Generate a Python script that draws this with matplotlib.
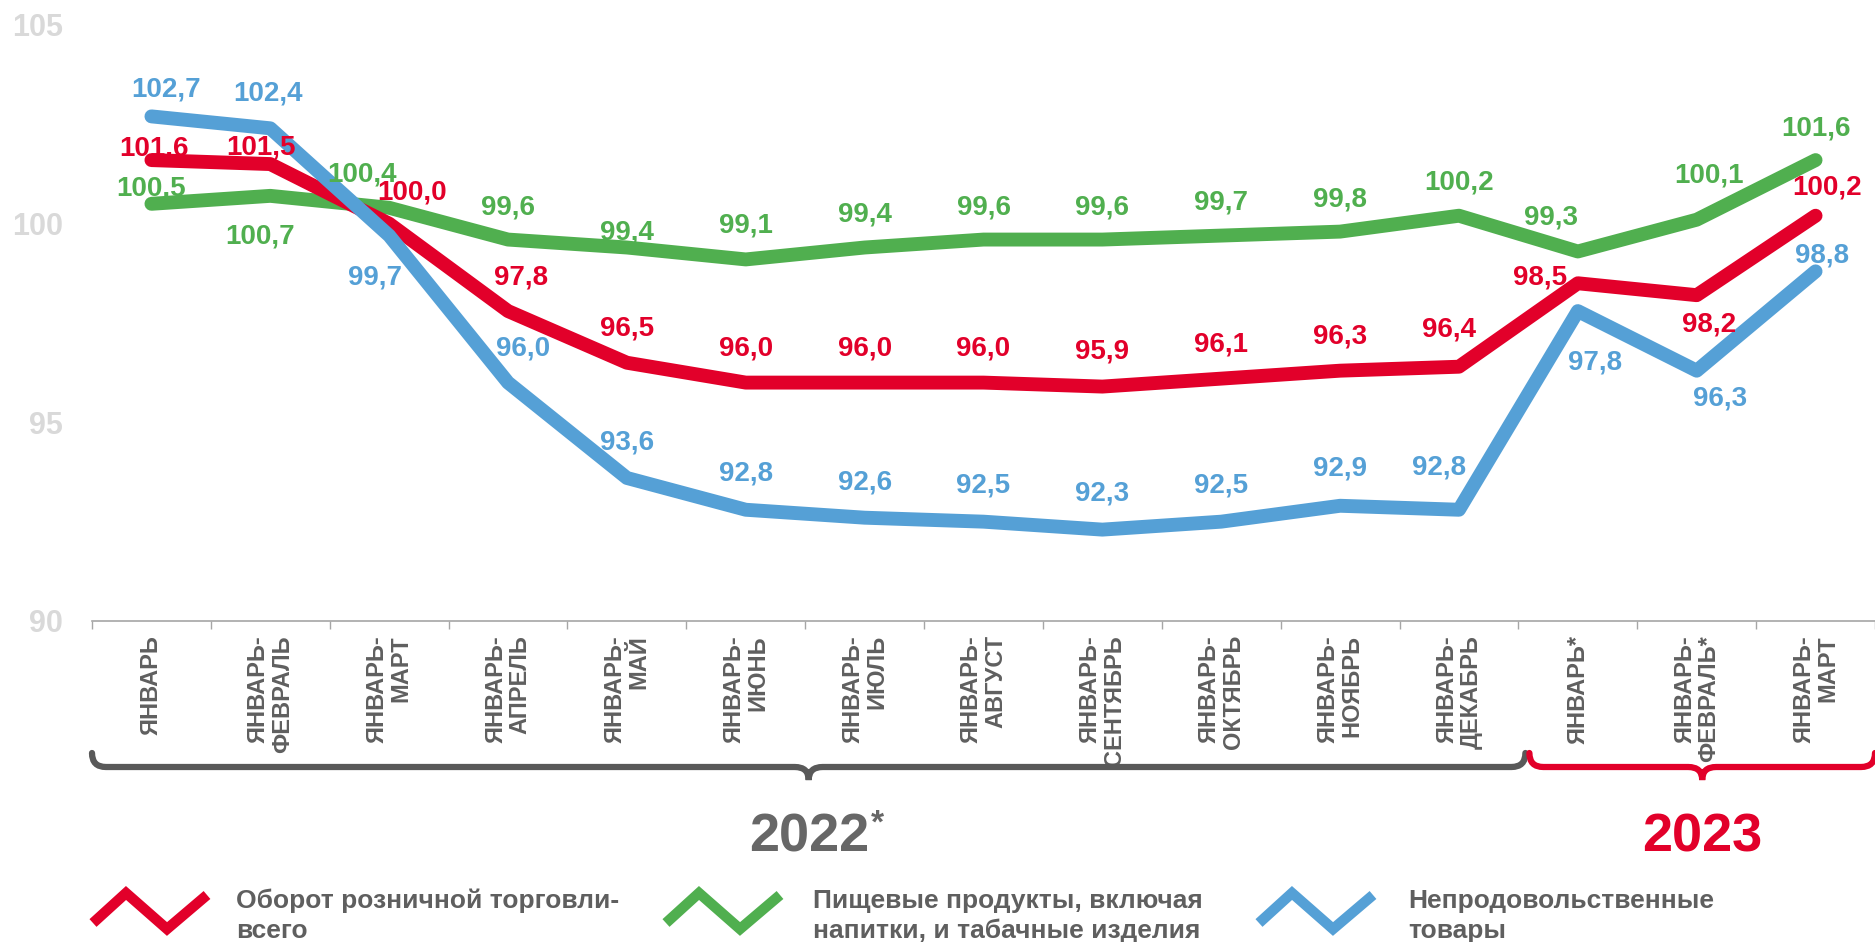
import matplotlib
matplotlib.use('Agg')
import matplotlib.pyplot as plt
from matplotlib.path import Path
from matplotlib.patches import PathPatch
from matplotlib.lines import Line2D
import numpy as np

plt.rcParams['font.family'] = ['Liberation Sans', 'DejaVu Sans']
plt.rcParams['font.weight'] = 'bold'

# ---------------- data ----------------
categories = ['ЯНВАРЬ', 'ЯНВАРЬ-\nФЕВРАЛЬ', 'ЯНВАРЬ-\nМАРТ', 'ЯНВАРЬ-\nАПРЕЛЬ',
              'ЯНВАРЬ-\nМАЙ', 'ЯНВАРЬ-\nИЮНЬ', 'ЯНВАРЬ-\nИЮЛЬ', 'ЯНВАРЬ-\nАВГУСТ',
              'ЯНВАРЬ-\nСЕНТЯБРЬ', 'ЯНВАРЬ-\nОКТЯБРЬ', 'ЯНВАРЬ-\nНОЯБРЬ',
              'ЯНВАРЬ-\nДЕКАБРЬ', 'ЯНВАРЬ*', 'ЯНВАРЬ-\nФЕВРАЛЬ*', 'ЯНВАРЬ-\nМАРТ']
retail_total = [101.6, 101.5, 100.0, 97.8, 96.5, 96.0, 96.0, 96.0, 95.9, 96.1, 96.3, 96.4, 98.5, 98.2, 100.2]
food = [100.5, 100.7, 100.4, 99.6, 99.4, 99.1, 99.4, 99.6, 99.6, 99.7, 99.8, 100.2, 99.3, 100.1, 101.6]
nonfood = [102.7, 102.4, 99.7, 96.0, 93.6, 92.8, 92.6, 92.5, 92.3, 92.5, 92.9, 92.8, 97.8, 96.3, 98.8]
series_names = ['Оборот розничной торговли-\nвсего',
                'Пищевые продукты, включая\nнапитки, и табачные изделия',
                'Непродовольственные\nтовары']
year_2022 = '2022'
year_2023 = '2023'
y_ticks = [90, 95, 100, 105]

# ---------------- style ----------------
RED = '#E2002A'
GREEN = '#50AF4F'
BLUE = '#55A0D6'
GRAY = '#5F5F5F'
YEAR_GRAY = '#676767'

# label offsets in pixels (dx right, dy down from point to label centre)
off_red = [(3, -15), (-9, -20), (23, -34), (13, -37), (0, -37), (0, -37), (0, -37), (0, -37),
           (0, -38), (0, -37), (0, -37), (-10, -40), (-38, -9), (12, 26), (11, -31)]
off_green = [(0, -18), (-10, 38), (-27, -36), (0, -35), (0, -18), (0, -37), (0, -36), (0, -35),
             (0, -35), (0, -36), (0, -35), (0, -36), (-27, -37), (12, -47), (0, -35)]
off_blue = [(15, -30), (-2, -38), (-14, 39), (15, -37), (0, -38), (0, -39), (0, -38), (0, -39),
            (0, -39), (0, -39), (0, -40), (-20, -45), (17, 48), (23, 25), (6, -19)]

W, H = 1875, 942
fig = plt.figure(figsize=(W / 100, H / 100), dpi=100)
fig.patch.set_facecolor('white')

ax_left, ax_bottom_px, ax_top_px = 92, 621, 25
cat_w = 119.4
ax = fig.add_axes([ax_left / W, (H - ax_bottom_px) / H, 1 - ax_left / W,
                   (ax_bottom_px - ax_top_px) / H])
ax.set_xlim(-0.5, -0.5 + (W - ax_left) / cat_w)
ax.set_ylim(90, 105)
ax.set_facecolor('none')

for s in ['top', 'right', 'left']:
    ax.spines[s].set_visible(False)
ax.spines['bottom'].set_color('#A6A6A6')
ax.spines['bottom'].set_linewidth(1.2)

x = np.arange(len(categories))
ax.set_xticks(x)
ax.set_xticklabels(categories, rotation=90, fontsize=17, color=GRAY, fontweight='bold')
for lbl in ax.get_xticklabels():
    lbl.set_multialignment('right')
    lbl.set_linespacing(1.05)
ax.set_xticks(np.arange(-0.5, len(categories), 1.0), minor=True)
ax.tick_params(axis='x', which='major', length=0, pad=10)
ax.tick_params(axis='x', which='minor', length=5.5, width=1.0, color='#A6A6A6', direction='out')

ax.set_yticks(y_ticks)
ax.set_yticklabels([str(t) for t in y_ticks], fontsize=22, color='#D9D9D9', fontweight='bold')
ax.tick_params(axis='y', length=0, pad=21)

series = [(food, GREEN, off_green, 3), (retail_total, RED, off_red, 4), (nonfood, BLUE, off_blue, 5)]
for vals, col, offs, z in series:
    ax.plot(x, vals, color=col, lw=10, solid_capstyle='round', solid_joinstyle='round',
            zorder=z, clip_on=False)
    for i, v in enumerate(vals):
        dx, dy = offs[i]
        ax.annotate(f'{v:.1f}'.replace('.', ','), (x[i], v), xytext=(dx, -(dy + 10)),
                    textcoords='offset pixels', ha='center', va='baseline', fontsize=20,
                    color=col, fontweight='bold', zorder=7, annotation_clip=False)

# ---------------- braces ----------------
def px(xd):
    return ax.transData.transform((xd, 100))[0]

def brace(xl, xr, col):
    yl, yt, ytip, r = 767, 753, 780, 14
    xm = (xl + xr) / 2
    pts = [(xl, yt), (xl, yl), (xl + r, yl), (xm - r, yl), (xm, yl), (xm, ytip),
           (xm, yl), (xm + r, yl), (xr - r, yl), (xr, yl), (xr, yt)]
    codes = [Path.MOVETO, Path.CURVE3, Path.CURVE3, Path.LINETO, Path.CURVE3, Path.CURVE3,
             Path.CURVE3, Path.CURVE3, Path.LINETO, Path.CURVE3, Path.CURVE3]
    pts = [(a / W, (H - b) / H) for a, b in pts]
    fig.add_artist(PathPatch(Path(pts, codes), fill=False, edgecolor=col, lw=4.5,
                             transform=fig.transFigure, capstyle='round'))
    return xm

split = px(11.5)
m22 = brace(px(-0.5), split + 7, '#595959')
m23 = brace(split + 11, px(14.5), RED)

base_y = (H - 851) / H
fig.text(m22 / W, base_y, year_2022, fontsize=39, color=YEAR_GRAY, ha='center',
         va='baseline', fontweight='bold')
fig.text((m22 + 62) / W, (H - 833) / H, '*', fontsize=24, color=YEAR_GRAY, ha='left',
         va='baseline', fontweight='bold')
fig.text(m23 / W, base_y, year_2023, fontsize=39, color=RED, ha='center',
         va='baseline', fontweight='bold')

# ---------------- legend ----------------
icon_shape = [(0, 923), (33, 893), (74, 929), (114, 895)]
legend_items = [(RED, 93, 236), (GREEN, 666, 813), (BLUE, 1259, 1408)]
for name, (col, ix, tx) in zip(series_names, legend_items):
    xs = [(ix + a) / W for a, b in icon_shape]
    ys = [(H - b) / H for a, b in icon_shape]
    fig.add_artist(Line2D(xs, ys, color=col, lw=7.5, solid_joinstyle='miter',
                          solid_capstyle='butt', transform=fig.transFigure))
    fig.text(tx / W, (H - 916) / H, name, fontsize=19, color=GRAY, ha='left', va='center',
             linespacing=1.32, fontweight='bold')

fig.savefig('out.png', dpi=100, facecolor='white')
